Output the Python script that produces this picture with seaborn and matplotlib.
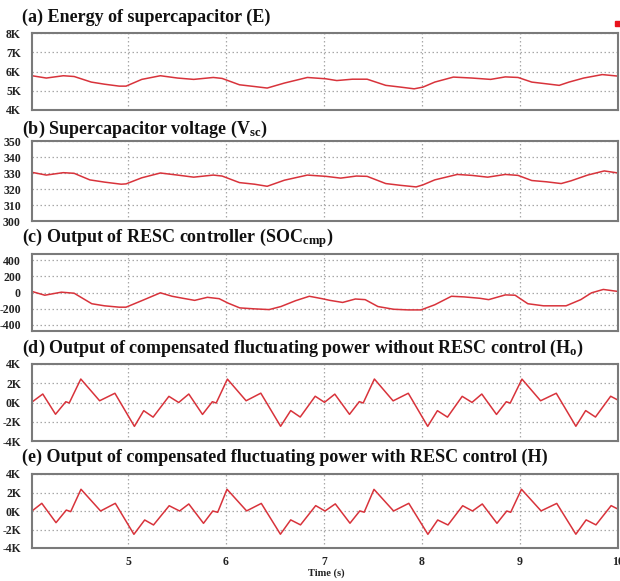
import matplotlib
matplotlib.use("Agg")
import matplotlib.pyplot as plt
import pandas as pd
import seaborn as sns
from matplotlib.patches import Rectangle

# ---- data -------------------------------------------------------------
energy_t = [4.02, 4.166, 4.34, 4.45, 4.625, 4.76, 4.91, 4.98, 5.14, 5.33, 5.505, 5.67,
            5.87, 5.96, 6.137, 6.29, 6.42, 6.596, 6.83, 7.02, 7.13, 7.29, 7.44, 7.63,
            7.78, 7.92, 8.01, 8.13, 8.32, 8.51, 8.70, 8.85, 8.98, 9.12, 9.27, 9.40,
            9.50, 9.65, 9.84, 10.0]
energy = [5780, 5660, 5780, 5740, 5450, 5340, 5240, 5240, 5590, 5780, 5660, 5590,
          5690, 5640, 5310, 5220, 5140, 5400, 5690, 5620, 5530, 5600, 5600, 5280,
          5190, 5100, 5190, 5450, 5710, 5660, 5590, 5720, 5690, 5450, 5360, 5280,
          5450, 5660, 5840, 5760]

vsc_t = [4.02, 4.166, 4.34, 4.45, 4.61, 4.76, 4.93, 4.98, 5.14, 5.33, 5.505, 5.67,
         5.87, 5.96, 6.137, 6.29, 6.42, 6.596, 6.83, 7.02, 7.17, 7.33, 7.44, 7.63,
         7.78, 7.94, 8.01, 8.13, 8.36, 8.51, 8.67, 8.85, 8.98, 9.12, 9.27, 9.42,
         9.52, 9.69, 9.86, 10.0]
vsc = [330.4, 328.7, 330.2, 329.8, 325.7, 324.3, 323.0, 323.2, 327.0, 330.0, 328.7, 327.4,
       328.7, 328.1, 324.0, 323.0, 321.7, 325.5, 328.7, 327.9, 326.8, 328.1, 327.9, 323.4,
       322.3, 321.3, 322.6, 325.7, 329.1, 328.5, 327.4, 329.1, 328.5, 325.3, 324.5, 323.4,
       325.1, 328.7, 331.3, 330.0]

soc_t = [4.02, 4.15, 4.32, 4.45, 4.63, 4.76, 4.91, 4.98, 5.14, 5.33, 5.45, 5.56,
         5.68, 5.81, 5.93, 6.02, 6.14, 6.29, 6.44, 6.56, 6.71, 6.85, 6.98, 7.06,
         7.19, 7.32, 7.42, 7.55, 7.71, 7.86, 7.99, 8.13, 8.30, 8.43, 8.59, 8.68,
         8.85, 8.95, 9.08, 9.24, 9.47, 9.62, 9.73, 9.85, 10.0]
soc = [13, -34, 4, -9, -140, -166, -183, -183, -102, -4, -47, -72,
       -98, -60, -77, -132, -192, -204, -213, -175, -102, -47, -77, -98,
       -124, -81, -89, -175, -209, -217, -217, -153, -47, -55, -72, -89,
       -30, -34, -140, -166, -166, -89, -4, 38, 13]

ho_t = [4.02, 4.13, 4.26, 4.365, 4.40, 4.518, 4.71, 4.866, 5.065, 5.16, 5.256, 5.417,
        5.517, 5.62, 5.76, 5.86, 5.90, 6.014, 6.205, 6.355, 6.557, 6.66, 6.757, 6.91,
        7.005, 7.11, 7.26, 7.36, 7.40, 7.514, 7.705, 7.86, 8.058, 8.157, 8.26, 8.41,
        8.51, 8.61, 8.76, 8.86, 8.90, 9.02, 9.21, 9.37, 9.57, 9.67, 9.77, 9.925, 10.0]
ho = [50, 880, -1220, 80, -50, 2440, 180, 960, -2480, -850, -1520, 640,
      0, 880, -1240, 80, -50, 2430, 180, 970, -2470, -840, -1510, 650,
      20, 870, -1230, 90, -50, 2440, 170, 960, -2480, -850, -1520, 640,
      10, 880, -1240, 80, -60, 2430, 180, 960, -2470, -840, -1510, 650, 250]

h_t = [4.02, 4.12, 4.265, 4.37, 4.415, 4.52, 4.72, 4.87, 5.06, 5.17, 5.26, 5.42,
       5.526, 5.62, 5.77, 5.865, 5.915, 6.01, 6.21, 6.36, 6.555, 6.66, 6.76, 6.915,
       7.01, 7.115, 7.265, 7.365, 7.41, 7.51, 7.71, 7.865, 8.06, 8.16, 8.265, 8.415,
       8.515, 8.615, 8.765, 8.865, 8.905, 9.015, 9.215, 9.375, 9.57, 9.675, 9.775, 9.93, 10.0]
h = [0, 830, -1260, 100, -70, 2350, 0, 830, -2520, -970, -1510, 570,
     0, 760, -1330, 0, -140, 2350, 10, 820, -2510, -960, -1500, 580,
     0, 770, -1320, 10, -130, 2340, 0, 830, -2520, -970, -1510, 570,
     0, 760, -1330, 0, -140, 2350, 10, 820, -2510, -960, -1500, 580, 200]

titles = [
    "(a) Energy of supercapacitor (E)",
    r"(b) Supercapacitor voltage ($\mathrm{V_{sc}}$)",
    r"(c) Output of RESC controller ($\mathrm{SOC_{cmp}}$)",
    r"(d) Output of compensated fluctuating power without RESC control ($\mathrm{H_o}$)",
    "(e) Output of compensated fluctuating power with RESC control (H)",
]
ytick_vals = [
    [4000, 5000, 6000, 7000, 8000],
    [300, 310, 320, 330, 340, 350],
    [-400, -200, 0, 200, 400],
    [-4000, -2000, 0, 2000, 4000],
    [-4000, -2000, 0, 2000, 4000],
]
ytick_labels = [
    ["4K", "5K", "6K", "7K", "8K"],
    ["300", "310", "320", "330", "340", "350"],
    ["-400", "-200", "0", "200", "400"],
    ["-4K", "-2K", "0K", "2K", "4K"],
    ["-4K", "-2K", "0K", "2K", "4K"],
]
ylims = [(4000, 8000), (300, 350), (-480, 480), (-4000, 4000), (-4000, 4000)]
xtick_vals = [5, 6, 7, 8, 9, 10]
xtick_labels = ["5", "6", "7", "8", "9", "10"]
x_label = "Time (s)"

series = [(energy_t, energy), (vsc_t, vsc), (soc_t, soc), (ho_t, ho), (h_t, h)]

# ---- style ------------------------------------------------------------
sns.set_theme(style="white")
plt.rcParams["font.family"] = ["Liberation Serif", "DejaVu Serif"]
plt.rcParams["mathtext.fontset"] = "custom"
plt.rcParams["mathtext.rm"] = "Liberation Serif:bold"
plt.rcParams["mathtext.it"] = "Liberation Serif:bold"
plt.rcParams["mathtext.bf"] = "Liberation Serif:bold"

W, H = 620, 581
fig = plt.figure(figsize=(W / 100, H / 100), dpi=100)
fig.patch.set_facecolor("white")

# panel frames in pixel rows (top, bottom)
rows = [(33, 110), (141, 221), (254, 331), (364, 441), (474, 548)]
title_baselines = [21.5, 134, 242.5, 353, 462]
left_px, right_px = 32, 618

line_color = "#d8333b"

for i, ((top, bot), (tx, ty)) in enumerate(zip(rows, series)):
    ax = fig.add_axes([left_px / W, 1 - bot / H, (right_px - left_px) / W, (bot - top) / H])
    df = pd.DataFrame({"t": tx, "v": ty})
    sns.lineplot(data=df, x="t", y="v", ax=ax, color=line_color, linewidth=1.1)
    ax.set_xlim(4.02, 10.0)
    ax.set_ylim(*ylims[i])
    ax.set_yticks(ytick_vals[i])
    ax.set_yticklabels(ytick_labels[i], fontsize=8.5, fontweight="bold", color="#222222")
    ax.set_xticks(xtick_vals)
    if i == 4:
        ax.set_xticklabels(xtick_labels, fontsize=8.5, fontweight="bold", color="#222222")
    else:
        ax.set_xticklabels([])
    ax.set_xlabel("")
    ax.set_ylabel("")
    ax.tick_params(axis="both", length=0)
    ax.tick_params(axis="y", pad=8)
    ax.tick_params(axis="x", pad=6)
    ax.grid(True, color="#a8a8a8", linestyle=(0, (1.2, 2.0)), linewidth=0.9)
    for sp in ax.spines.values():
        sp.set_visible(True)
        sp.set_color("#7a7a7a")
        sp.set_linewidth(1.5)
    fig.text(22 / W, 1 - title_baselines[i] / H, titles[i], ha="left", va="baseline",
             fontsize=13, fontweight="bold", color="#111111")

fig.text(326 / W, 1 - 573 / H, x_label, ha="center", va="center",
         fontsize=7.5, fontweight="bold", color="#222222")

# legend marker at the top right corner
fig.patches.append(Rectangle((615 / W, 1 - 26 / H), 6 / W, 5 / H,
                             transform=fig.transFigure, color="#e8121c", zorder=5))

fig.savefig("out.png", dpi=100)
